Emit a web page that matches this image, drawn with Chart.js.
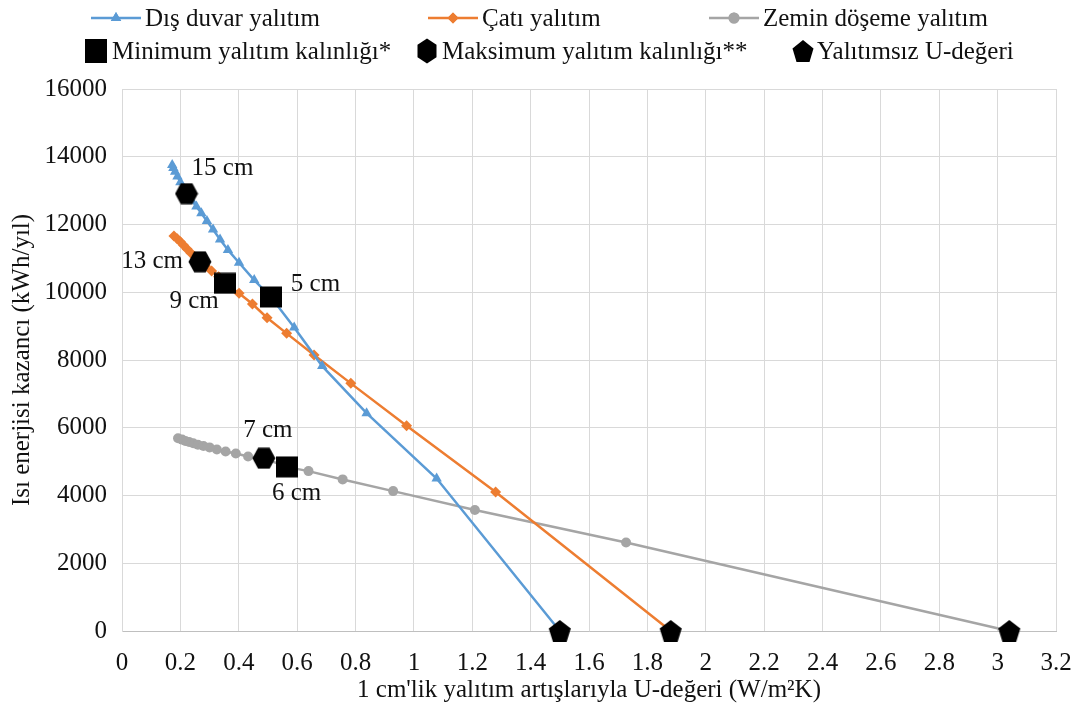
<!DOCTYPE html>
<html>
<head>
<meta charset="utf-8">
<title>Isı enerjisi kazancı</title>
<script src="https://cdn.jsdelivr.net/npm/chart.js@4.4.1/dist/chart.umd.min.js"></script>
<style>
  body { margin: 0; background: #fff; }
  #wrap { width: 1075px; height: 715px; }
</style>
</head>
<body>
<div id="wrap"><canvas id="chart" width="1075" height="715"></canvas></div>
<script>
// Series names
const seriesNames = ['Dış duvar yalıtım', 'Çatı yalıtım', 'Zemin döşeme yalıtım'];
const markerNames = ['Minimum yalıtım kalınlığı*', 'Maksimum yalıtım kalınlığı**', 'Yalıtımsız U-değeri'];

// Dış duvar (wall) - U value vs energy gain, 0 cm first
const wallU = [1.50, 1.078, 0.838, 0.686, 0.590, 0.51, 0.453, 0.401, 0.363, 0.336, 0.312, 0.291, 0.272, 0.255, 0.239, 0.221, 0.211, 0.200, 0.190, 0.182, 0.176, 0.172];
const wallE = [0, 4500, 6430, 7820, 8960, 9860, 10360, 10870, 11250, 11560, 11850, 12100, 12330, 12530, 12710, 12910, 13060, 13250, 13420, 13560, 13670, 13760];

// Çatı (roof)
const roofU = [1.88, 1.28, 0.975, 0.784, 0.658, 0.564, 0.497, 0.447, 0.401, 0.352, 0.331, 0.307, 0.286, 0.267, 0.251, 0.236, 0.223, 0.211, 0.200, 0.189, 0.178];
const roofE = [0, 4106, 6056, 7310, 8145, 8786, 9247, 9652, 9968, 10265, 10460, 10630, 10770, 10900, 11030, 11160, 11280, 11390, 11490, 11580, 11660];

// Zemin döşeme (floor)
const floorU = [3.04, 1.727, 1.209, 0.929, 0.756, 0.639, 0.564, 0.486, 0.432, 0.390, 0.355, 0.325, 0.300, 0.279, 0.260, 0.244, 0.230, 0.217, 0.206, 0.192];
const floorE = [0, 2610, 3570, 4130, 4475, 4720, 4845, 5100, 5150, 5240, 5300, 5360, 5420, 5460, 5500, 5540, 5580, 5610, 5650, 5690];

// Black markers (wall, roof, floor)
const minU = [0.51, 0.352, 0.564];
const minE = [9860, 10265, 4845];
const minLabels = ['5 cm', '9 cm', '6 cm'];
const maxU = [0.221, 0.267, 0.486];
const maxE = [12910, 10900, 5100];
const maxLabels = ['15 cm', '13 cm', '7 cm'];
const bareU = [1.50, 1.88, 3.04];
const bareE = [0, 0, 0];

const colors = ['#5B9BD5', '#ED7D31', '#A5A5A5'];
const FONT = 'Liberation Serif';
const FS = 25;

function pts(xs, ys) {
    return xs.map((x, i) => ({ x: x, y: ys[i] }));
}

// Shape helpers (used for points and legend)
function pathSquare(ctx, cx, cy, w, h) {
    ctx.beginPath();
    ctx.rect(cx - w / 2, cy - h / 2, w, h);
}
function pathHexagon(ctx, cx, cy, w, h, pointyTop) {
    ctx.beginPath();
    if (pointyTop) {
        ctx.moveTo(cx, cy - h / 2);
        ctx.lineTo(cx + w / 2, cy - h / 4);
        ctx.lineTo(cx + w / 2, cy + h / 4);
        ctx.lineTo(cx, cy + h / 2);
        ctx.lineTo(cx - w / 2, cy + h / 4);
        ctx.lineTo(cx - w / 2, cy - h / 4);
    } else {
        ctx.moveTo(cx - w / 2, cy);
        ctx.lineTo(cx - w / 4, cy - h / 2);
        ctx.lineTo(cx + w / 4, cy - h / 2);
        ctx.lineTo(cx + w / 2, cy);
        ctx.lineTo(cx + w / 4, cy + h / 2);
        ctx.lineTo(cx - w / 4, cy + h / 2);
    }
    ctx.closePath();
}
function pathPentagon(ctx, cx, cy, w, h) {
    // regular pentagon squeezed into a w x h box
    const bw = 2 * Math.sin(2 * Math.PI / 5);
    const bh = 1 + Math.cos(Math.PI / 5);
    ctx.beginPath();
    for (let k = 0; k < 5; k++) {
        const a = -Math.PI / 2 + k * 2 * Math.PI / 5;
        const x = cx + Math.cos(a) / bw * w;
        const y = cy - h / 2 + (Math.sin(a) + 1) / bh * h;
        if (k === 0) ctx.moveTo(x, y); else ctx.lineTo(x, y);
    }
    ctx.closePath();
}

function makeIcon(w, h, draw) {
    const c = document.createElement('canvas');
    c.width = w;
    c.height = h;
    const ctx = c.getContext('2d');
    ctx.fillStyle = '#000';
    draw(ctx);
    ctx.fill();
    return c;
}
const squareIcon = makeIcon(22, 22, ctx => pathSquare(ctx, 11, 11, 22, 21));
const hexIcon = makeIcon(24, 22, ctx => pathHexagon(ctx, 12, 11, 23, 21, false));
const pentIcon = makeIcon(24, 24, ctx => pathPentagon(ctx, 12, 12, 22, 22));

// Labels next to black markers (offsets in px)
const labelPlugin = {
    id: 'cmLabels',
    afterDatasetsDraw(chart) {
        const ctx = chart.ctx;
        const xs = chart.scales.x, ys = chart.scales.y;
        const place = [
            // [text, u, e, dx, dy, align]
            [minLabels[0], minU[0], minE[0], 20, -13, 'left'],
            [minLabels[1], minU[1], minE[1], -6, 18, 'right'],
            [minLabels[2], minU[2], minE[2], 10, 27, 'center'],
            [maxLabels[0], maxU[0], maxE[0], 36, -25, 'center'],
            [maxLabels[1], maxU[1], maxE[1], -17, 0, 'right'],
            [maxLabels[2], maxU[2], maxE[2], 4, -28, 'center']
        ];
        ctx.save();
        ctx.font = FS + 'px "' + FONT + '"';
        ctx.fillStyle = '#111';
        ctx.textBaseline = 'middle';
        place.forEach(p => {
            ctx.textAlign = p[5];
            ctx.fillText(p[0], xs.getPixelForValue(p[1]) + p[3], ys.getPixelForValue(p[2]) + p[4]);
        });
        ctx.restore();
    }
};

// Hand-placed two-row legend
const legendPlugin = {
    id: 'twoRowLegend',
    afterDraw(chart) {
        const ctx = chart.ctx;
        ctx.save();
        ctx.font = FS + 'px "' + FONT + '"';
        ctx.textBaseline = 'middle';
        ctx.textAlign = 'left';
        const row1 = 18, row2 = 51;
        const lineItems = [[91, 'triangle'], [428, 'rectRot'], [709, 'circle']];
        lineItems.forEach((it, i) => {
            const x0 = it[0];
            ctx.strokeStyle = colors[i];
            ctx.lineWidth = 2.5;
            ctx.beginPath();
            ctx.moveTo(x0, row1);
            ctx.lineTo(x0 + 50, row1);
            ctx.stroke();
            ctx.fillStyle = colors[i];
            Chart.helpers.drawPoint(ctx, { pointStyle: it[1], radius: i === 0 ? 6 : 5.5, borderWidth: 0 }, x0 + 25, row1);
            ctx.fill();
            ctx.fillStyle = '#111';
            ctx.fillText(seriesNames[i], x0 + 54, row1 + 1);
        });
        ctx.fillStyle = '#000';
        pathSquare(ctx, 96, row2, 22, 24);
        ctx.fill();
        pathHexagon(ctx, 427, row2, 19, 25, true);
        ctx.fill();
        pathPentagon(ctx, 803, row2, 21, 22);
        ctx.fill();
        ctx.fillStyle = '#111';
        ctx.fillText(markerNames[0], 112, row2 + 1);
        ctx.fillText(markerNames[1], 442, row2 + 1);
        ctx.fillText(markerNames[2], 817, row2 + 1);
        ctx.restore();
    }
};

function lineSet(i, xs, ys, style, radius) {
    return {
        label: seriesNames[i],
        data: pts(xs, ys),
        showLine: true,
        borderColor: colors[i],
        backgroundColor: colors[i],
        borderWidth: 2.5,
        pointStyle: style,
        pointRadius: radius,
        pointBorderWidth: 0,
        tension: 0,
        clip: false,
        order: 2
    };
}
function markerSet(label, xs, ys, icon) {
    return {
        label: label,
        data: pts(xs, ys),
        showLine: false,
        pointStyle: icon,
        pointRadius: 11,
        clip: false,
        order: 1
    };
}

Chart.defaults.font.family = FONT;
Chart.defaults.color = '#111';

new Chart(document.getElementById('chart'), {
    type: 'scatter',
    data: {
        datasets: [
            lineSet(0, wallU, wallE, 'triangle', 6),
            lineSet(1, roofU, roofE, 'rectRot', 5.5),
            lineSet(2, floorU, floorE, 'circle', 5),
            markerSet(markerNames[0], minU, minE, squareIcon),
            markerSet(markerNames[1], maxU, maxE, hexIcon),
            markerSet(markerNames[2], bareU, bareE, pentIcon)
        ]
    },
    options: {
        responsive: false,
        animation: false,
        devicePixelRatio: 1,
        layout: { padding: { top: 89, right: 19, left: 0, bottom: 0 } },
        plugins: {
            legend: { display: false },
            tooltip: { enabled: false }
        },
        scales: {
            x: {
                type: 'linear',
                min: 0,
                max: 3.2,
                afterFit: s => { s.height = 84; s.paddingLeft = 0; s.paddingRight = 0; },
                grid: { color: '#d9d9d9', drawTicks: false },
                border: { color: '#bfbfbf' },
                ticks: {
                    stepSize: 0.2,
                    padding: 17,
                    font: { size: FS },
                    maxRotation: 0,
                    callback: v => String(Math.round(v * 10) / 10)
                },
                title: {
                    display: true,
                    text: "1 cm'lik yalıtım artışlarıyla U-değeri (W/m²K)",
                    font: { size: FS },
                    padding: { top: 0, bottom: 10 }
                }
            },
            y: {
                min: 0,
                max: 16000,
                afterFit: s => { s.width = 122; },
                grid: { color: '#d9d9d9', drawTicks: false },
                border: { color: '#d9d9d9' },
                ticks: {
                    stepSize: 2000,
                    padding: 15,
                    font: { size: FS },
                    callback: v => String(v)
                },
                title: {
                    display: true,
                    text: 'Isı enerjisi kazancı (kWh/yıl)',
                    font: { size: FS },
                    padding: { top: 7, bottom: 0 }
                }
            }
        }
    },
    plugins: [labelPlugin, legendPlugin]
});
</script>
</body>
</html>
